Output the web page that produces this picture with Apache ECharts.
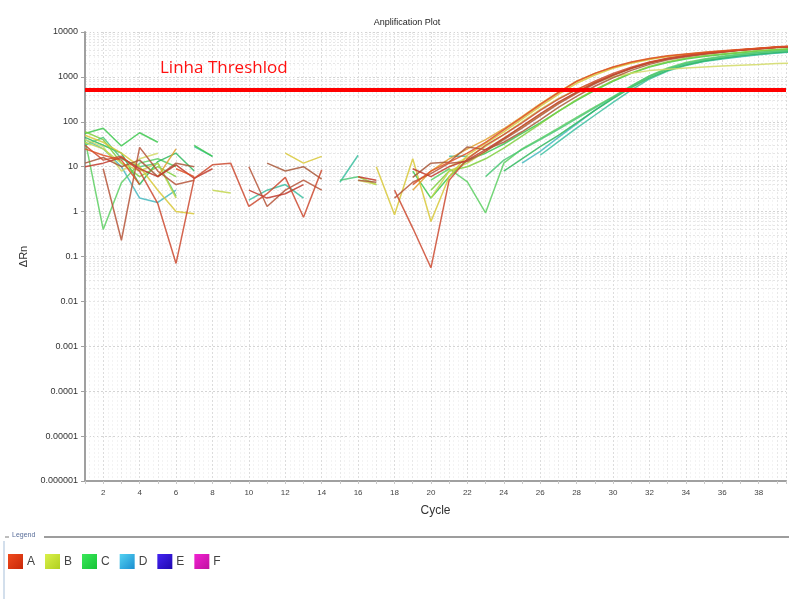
<!DOCTYPE html>
<html>
<head>
<meta charset="utf-8">
<script src="https://cdn.jsdelivr.net/npm/echarts@6/dist/echarts.min.js"></script>
<style>html,body{margin:0;padding:0;background:#fff}#c{width:789px;height:599px}</style>
</head>
<body>
<div id="c"></div>
<script>
// ---- data ----
const cycles = [1,2,3,4,5,6,7,8,9,10,11,12,13,14,15,16,17,18,19,20,21,22,23,24,25,26,27,28,29,30,31,32,33,34,35,36,37,38,39,40];
const xTickLabels = [2,4,6,8,10,12,14,16,18,20,22,24,26,28,30,32,34,36,38];
const yTickLabels = ['0.000001','0.00001','0.0001','0.001','0.01','0.1','1','10','100','1000','10000'];
const legendNames = ['A','B','C','D','E','F'];
const threshold = 530;

const A1 = [10,12,16,9,6,11,5.5,9,null,3, 2,2.5,4,null,null,6,5,null,9,6, 10,14,24,43,80,150,275,460,740,1120, 1580,2090,2570,2950,3310,3630,3980,4270,4570,4790];
const A2 = [null,9,0.23,27,8,4,5,null,null,10, 1.3,3,5,3,null,4,null,2,4.5,7, 12,13,22,40,72,135,250,430,700,1070, 1530,2040,2520,2900,3270,3600,3950,4250,4550,4750];
const A3 = [30,14,17,8,1.5,0.07,5.5,11,12,1.3, 2.5,5.8,0.75,8.5,null,null,null,3,0.43,0.056, 5,15,30,52,95,180,320,520,800,1200, 1650,2150,2600,2980,3350,3680,4000,4300,4600,4850];
const A4 = [12,16,10,14,6,12,10,null,null,null, 12,8,10,5.3,null,5,4.5,null,5.8,12, 12.7,27.6,24,35,60,110,210,370,620,960, 1400,1900,2400,2800,3200,3550,3900,4200,4500,4700];
const A5 = [25,18,14,4,null,9,6,null,null,null, null,null,null,null,null,null,null,null,4,8, 12.6,20,35,66,126,240,447,794,1200,1660, 2140,2570,2950,3240,3550,3800,4070,4370,4680,4900];
const B1 = [50,35,20,10,3,1.0,0.9,null,5,null, null,20,12,17,null,null,10,0.85,15,0.6, 6,18,33,60,115,220,410,720,1100,1550, 2000,2450,2850,3150,3450,3700,3980,4250,4500,4700];
const B2 = [35,25,12,8,12,2,null,3,2.6,null, null,null,null,null,null,6,4,null,null,2, 8,12,22,42,78,145,265,450,730,1100, 1560,2060,2540,2920,3280,3600,3950,4250,4550,4780];
const B3 = [null,null,null,null,6,25,null,null,null,null, null,null,null,null,null,null,null,null,3,8, 15,25,40,70,130,250,460,800,1200,1640, 2100,2530,2900,3200,3500,3760,4030,4330,4630,4850];
const B4 = [40,28,8,15,20,null,null,null,null,null, null,null,null,null,null,5,4,null,null,null, 10,16,28,52,100,190,331,525,759,1000, 1200,1380,1480,1580,1660,1740,1820,1900,2000,2040];
const C1 = [55,72,29,57,35,null,30,17,null,null, null,null,null,null,null,null,null,null,8,2, 6,14,20,32,55,95,170,300,500,800, 1200,1650,2100,2500,2850,3150,3450,3750,4000,4200];
const C2 = [40,0.4,4.4,12,15,10,null,null,null,null, null,null,null,null,null,null,null,null,null,5, 9,4.6,0.94,12,25,42,72,126,214,363, 631,1050,1580,2090,2510,2880,3240,3550,3800,3980];
const C3 = [45,30,20,4,13,20,8,null,null,null, null,null,null,null,null,null,null,null,null,null, null,null,null,8,15,28,50,95,180,330, 580,950,1400,1850,2250,2600,2950,3250,3500,3700];
const C4 = [60,40,12,6,10,6,null,null,null,null, null,null,null,null,null,null,null,null,null,3, 8,10,15,26,48,90,170,310,520,820, 1230,1700,2180,2600,2950,3250,3550,3850,4100,4300];
const C5 = [30,45,15,10,12,2.2,null,null,null,null, null,null,null,null,5,6,4,null,null,null, null,null,6,14,24,40,68,118,205,350, 600,1000,1500,2000,2400,2780,3120,3430,3700,3900];
const D1 = [null,null,null,null,null,null,28,17,null,1.8, 3,4,2,null,4.5,18,null,null,null,null, 17,17,null,null,null,18,36,72,140,270, 510,900,1350,1800,2200,2500,2800,3100,3400,3600];
const D2 = [40,25,10,2,1.6,3,null,null,null,null, null,null,null,null,null,null,null,null,null,null, null,null,null,null,12,22,45,90,180,340, 620,1050,1500,1950,2300,2600,2900,3200,3450,3650];

// ---- styles ----
const wells = [
  {group:'D', values:D1, color:'#3cc0a0'},
  {group:'D', values:D2, color:'#46b8c0'},
  {group:'C', values:C1, color:'#3cc84e'},
  {group:'C', values:C2, color:'#5ccf62'},
  {group:'C', values:C3, color:'#30b85e'},
  {group:'C', values:C4, color:'#7fcf3e'},
  {group:'C', values:C5, color:'#4ec877'},
  {group:'B', values:B4, color:'#d2da66'},
  {group:'B', values:B2, color:'#c2d64c'},
  {group:'B', values:B1, color:'#d8c838'},
  {group:'B', values:B3, color:'#e0a030'},
  {group:'A', values:A4, color:'#a8583a'},
  {group:'A', values:A2, color:'#b5553a'},
  {group:'A', values:A1, color:'#c0392b'},
  {group:'A', values:A3, color:'#cc4a30'},
  {group:'A', values:A5, color:'#dd5026'}
];
const legendColors = {
  A:['#f04a1e','#c82808'], B:['#daf04a','#b0d020'], C:['#3ae85a','#16c436'],
  D:['#54d2f2','#1a8ed0'], E:['#4424f2','#2008b0'], F:['#f222d2','#c010a0']
};
function grad(c){return {type:'linear',x:0,y:0,x2:1,y2:1,colorStops:[{offset:0,color:c[0]},{offset:1,color:c[1]}]};}

const minorY = [];
for (let e = -6; e < 4; e++) for (let k = 2; k <= 9; k++) minorY.push({yAxis: k * Math.pow(10, e)});

const series = [];
series.push({
  type:'line', name:'_grid', data:[], silent:true, z:0,
  markLine:{silent:true, z:0, symbol:'none', animation:false, label:{show:false},
    lineStyle:{color:'#e6e6e6', type:[2,2], width:1}, data:minorY}
});
wells.forEach(w => {
  series.push({
    type:'line', name:w.group, showSymbol:false, connectNulls:false, z:3,
    data: cycles.map((c,i)=>[c, w.values[i]]),
    lineStyle:{color:w.color, width:1.5, opacity:0.85},
    itemStyle:{color:w.color}, emphasis:{disabled:true}
  });
});
['E','F'].forEach(n => series.push({type:'line', name:n, data:[]}));
series.push({
  type:'line', name:'_thr', data:[], z:5,
  markLine:{silent:true, z:6, symbol:'none', animation:false, label:{show:false},
    lineStyle:{color:'#ff0000', width:4, type:'solid'}, data:[{yAxis:threshold}]}
});

const chart = echarts.init(document.getElementById('c'), null, {renderer:'canvas'});
chart.setOption({
  animation:false,
  backgroundColor:'#ffffff',
  textStyle:{fontFamily:'Liberation Sans, Arial, sans-serif'},
  title:{text:'Anplification Plot', left:402, top:13, textAlign:'center',
    textStyle:{fontSize:9, fontWeight:'normal', color:'#222'}},
  grid:{left:85, top:32, right:0, bottom:118},
  xAxis:{
    type:'value', min:1, max:39.5, interval:1,
    name:'Cycle', nameLocation:'middle', nameGap:24,
    nameTextStyle:{fontSize:12, color:'#333'},
    axisLine:{show:true, onZero:false, lineStyle:{color:'#a0a0a0', width:2}},
    axisTick:{show:true, length:3, lineStyle:{color:'#c8c8c8'}},
    axisLabel:{fontSize:8, color:'#444', margin:8,
      formatter:v => xTickLabels.indexOf(v) >= 0 ? String(v) : ''},
    splitLine:{show:true, lineStyle:{color:['#e8e8e8','#dcdcdc'], type:[2,2], width:1}},
    minorTick:{show:false, splitNumber:4},
    minorSplitLine:{show:true, lineStyle:{color:'#f3f3f3', type:[2,2], width:1}}
  },
  yAxis:{
    type:'log', logBase:10, min:0.000001, max:10000, interval:1, splitNumber:10,
    name:'ΔRn', nameLocation:'middle', nameGap:50,
    nameTextStyle:{fontSize:11, color:'#333'},
    axisLine:{show:true, lineStyle:{color:'#a0a0a0', width:2}},
    axisTick:{show:true, length:4, lineStyle:{color:'#a0a0a0'}},
    axisLabel:{fontSize:9, color:'#333', margin:7,
      formatter:v => yTickLabels[Math.round(Math.log10(v)) + 6] || ''},
    splitLine:{show:true, lineStyle:{color:'#d4d4d4', type:[2,2], width:1}}
  },
  legend:{
    left:3, top:549, orient:'horizontal', selectedMode:false,
    icon:'rect', itemWidth:15, itemHeight:15, itemGap:10,
    textStyle:{fontSize:12, color:'#444', padding:[0,0,0,-1]},
    data: legendNames.map(n => ({name:n, itemStyle:{color:grad(legendColors[n])}}))
  },
  graphic:[
    {type:'text', left:160, top:60, silent:true, z:10,
      style:{text:'Linha Threshlod', fill:'#ff1010', fontSize:17, fontFamily:'Open Sans, Liberation Sans, sans-serif'}},
    {type:'line', silent:true, shape:{x1:44, y1:537, x2:789, y2:537}, style:{stroke:'#7d7d7d', lineWidth:1.5}},
    {type:'line', silent:true, shape:{x1:5, y1:537, x2:9, y2:537}, style:{stroke:'#7d7d7d', lineWidth:1}},
    {type:'text', left:12, top:532, silent:true, style:{text:'Legend', fill:'#5a6e9a', fontSize:7}},
    {type:'line', silent:true, shape:{x1:4, y1:541, x2:4, y2:599}, style:{stroke:'#c4d4e6', lineWidth:1.5}}
  ],
  series: series
});
</script>
</body>
</html>
